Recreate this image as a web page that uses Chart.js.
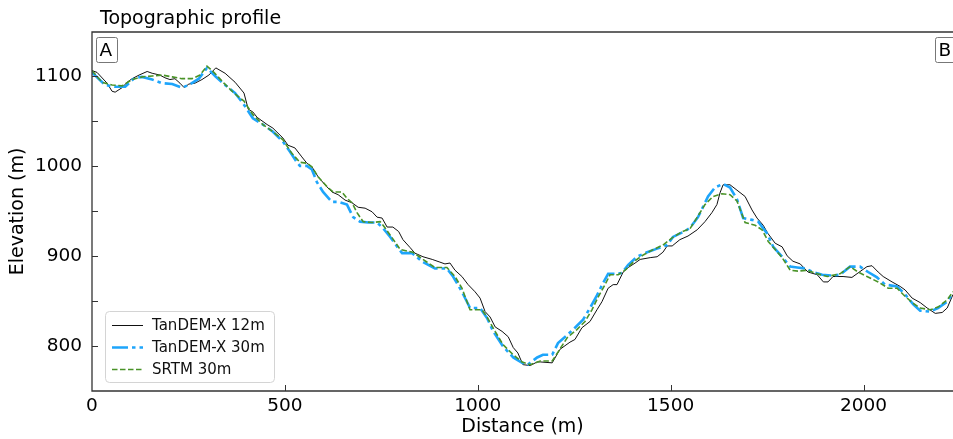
<!DOCTYPE html>
<html>
<head>
<meta charset="utf-8">
<script src="https://cdn.jsdelivr.net/npm/chart.js@4.4.1/dist/chart.umd.min.js"></script>
<style>
  html, body { margin: 0; padding: 0; background: #fff; }
  #wrap { width: 953px; height: 439px; }
</style>
</head>
<body>
<div id="wrap"><canvas id="profile" width="953" height="439"></canvas></div>
<script>
// profile A-B, distance (m) and elevation (m)

const tdx12Dist = [0, 13, 39, 52, 60, 78, 91, 104, 122, 143, 156, 176, 189, 202, 215, 228, 239, 251, 267, 285, 303, 321, 345, 371, 394, 405, 417, 428, 454, 469, 495, 508, 526, 544, 557, 570, 586, 604, 622, 638, 656, 674, 690, 708, 726, 739, 752, 765, 780, 795, 806, 825, 837, 858, 882, 902, 915, 928, 941, 959, 975, 993, 1006, 1019, 1032, 1045, 1063, 1079, 1092, 1104, 1117, 1136, 1154, 1162, 1193, 1213, 1239, 1252, 1270, 1291, 1309, 1322, 1338, 1351, 1361, 1377, 1390, 1408, 1421, 1447, 1465, 1480, 1491, 1504, 1524, 1545, 1569, 1589, 1607, 1620, 1628, 1636, 1654, 1672, 1693, 1711, 1724, 1740, 1752, 1771, 1789, 1802, 1817, 1836, 1856, 1880, 1896, 1908, 1921, 1947, 1970, 1986, 2009, 2022, 2038, 2051, 2074, 2095, 2108, 2126, 2147, 2165, 2186, 2204, 2217, 2232];
const tdx12Elev = [1106, 1104, 1092, 1083, 1082, 1087, 1093, 1097, 1101, 1105, 1103, 1101, 1098, 1096, 1097, 1092, 1087, 1091, 1092, 1096, 1101, 1109, 1103, 1093, 1081, 1063, 1060, 1054, 1046, 1042, 1031, 1023, 1020, 1010, 1003, 999, 988, 979, 971, 968, 962, 959, 954, 953, 949, 943, 942, 932, 932, 927, 918, 909, 903, 899, 896, 893, 891, 892, 884, 877, 868, 860, 853, 838, 832, 821, 816, 810, 798, 792, 779, 778, 782, 782, 781, 796, 804, 807, 820, 827, 840, 849, 864, 868, 868, 882, 887, 892, 896, 898, 899, 904, 911, 911, 918, 922, 929, 938, 948, 957, 970, 979, 979, 973, 966, 951, 942, 934, 925, 914, 910, 900, 894, 891, 882, 879, 871, 871, 877, 877, 876, 881, 888, 889, 882, 877, 871, 866, 862, 853, 848, 842, 836, 837, 842, 857];

const tdx30Dist = [0, 34, 60, 86, 111, 130, 156, 182, 208, 233, 251, 277, 298, 319, 345, 371, 394, 417, 443, 469, 495, 513, 531, 539, 557, 570, 583, 599, 622, 638, 661, 677, 695, 716, 739, 754, 773, 793, 804, 830, 858, 889, 920, 936, 959, 980, 1006, 1024, 1040, 1066, 1092, 1115, 1130, 1154, 1169, 1193, 1208, 1232, 1252, 1273, 1291, 1309, 1325, 1338, 1361, 1374, 1390, 1413, 1439, 1465, 1491, 1506, 1535, 1550, 1571, 1597, 1615, 1636, 1654, 1672, 1688, 1711, 1727, 1750, 1766, 1789, 1810, 1828, 1849, 1869, 1893, 1919, 1939, 1965, 1991, 2012, 2035, 2056, 2087, 2108, 2129, 2147, 2173, 2193, 2217, 2232];
const tdx30Elev = [1104, 1090, 1088, 1088, 1098, 1099, 1096, 1092, 1091, 1087, 1090, 1097, 1109, 1100, 1090, 1081, 1068, 1053, 1046, 1038, 1027, 1016, 1004, 1000, 1000, 996, 982, 971, 960, 960, 957, 943, 938, 937, 937, 931, 921, 909, 903, 903, 893, 886, 886, 877, 860, 842, 842, 831, 816, 799, 787, 781, 779, 787, 790, 790, 803, 812, 820, 829, 842, 856, 870, 880, 880, 881, 890, 899, 904, 908, 912, 921, 927, 931, 943, 966, 976, 980, 976, 963, 942, 940, 938, 925, 910, 899, 888, 887, 886, 882, 879, 878, 879, 888, 888, 882, 876, 868, 866, 857, 846, 839, 838, 842, 849, 859];

const srtmDist = [0, 26, 52, 78, 104, 130, 156, 182, 208, 233, 259, 280, 298, 316, 342, 368, 394, 417, 443, 469, 495, 518, 539, 557, 570, 586, 609, 625, 648, 661, 674, 687, 703, 726, 747, 760, 778, 799, 832, 858, 889, 920, 941, 959, 980, 1011, 1024, 1045, 1066, 1092, 1115, 1136, 1162, 1193, 1208, 1232, 1257, 1278, 1296, 1312, 1330, 1343, 1364, 1382, 1403, 1429, 1455, 1480, 1504, 1530, 1550, 1569, 1589, 1610, 1633, 1654, 1672, 1693, 1719, 1737, 1753, 1771, 1789, 1810, 1830, 1854, 1880, 1906, 1939, 1965, 1986, 2009, 2038, 2064, 2087, 2103, 2126, 2147, 2173, 2193, 2217, 2232];
const srtmElev = [1106, 1093, 1090, 1089, 1096, 1099, 1100, 1101, 1099, 1097, 1097, 1101, 1111, 1104, 1092, 1081, 1072, 1057, 1046, 1038, 1029, 1014, 1004, 1003, 999, 988, 977, 971, 971, 964, 959, 948, 938, 937, 938, 931, 920, 907, 904, 896, 887, 887, 877, 864, 840, 840, 832, 816, 801, 790, 782, 779, 783, 783, 793, 809, 818, 827, 840, 854, 868, 879, 879, 884, 893, 901, 907, 912, 920, 927, 930, 943, 957, 966, 969, 968, 961, 937, 934, 929, 916, 907, 898, 884, 883, 884, 880, 877, 880, 888, 882, 877, 871, 864, 864, 857, 848, 842, 840, 843, 851, 860];

const seriesNames = ['TanDEM-X 12m', 'TanDEM-X 30m', 'SRTM 30m'];
const xTickVals = [0, 500, 1000, 1500, 2000];
const yTickVals = [800, 900, 1000, 1100];
const yMinorVals = [850, 950, 1050];
const xRange = [0, 2232];
const yRange = [749.7, 1148.9];

const toPoints = (xs, ys) => xs.map((x, i) => ({ x: x, y: ys[i] }));
const asTicks = vals => vals.map(v => ({ value: v }));

Chart.defaults.font.family = '"DejaVu Sans", sans-serif';
Chart.defaults.color = '#000';

// frame + inward ticks (matplotlib look)
const framePlugin = {
  id: 'frame',
  afterDatasetsDraw(chart) {
    const { ctx, chartArea: a, scales } = chart;
    const x = scales.x, y = scales.y;
    ctx.save();
    ctx.strokeStyle = '#333';
    ctx.lineWidth = 1.3;
    ctx.beginPath();
    ctx.moveTo(a.right + 2, a.top);
    ctx.lineTo(a.left, a.top);
    ctx.lineTo(a.left, a.bottom);
    ctx.lineTo(a.right + 2, a.bottom);
    ctx.stroke();

    ctx.lineWidth = 1;
    ctx.beginPath();
    yTickVals.concat(yMinorVals).forEach(v => {
      const py = Math.round(y.getPixelForValue(v)) + 0.5;
      ctx.moveTo(a.left, py); ctx.lineTo(a.left + 6, py);
    });
    xTickVals.forEach(v => {
      if (v <= x.min) return;
      const px = Math.round(x.getPixelForValue(v)) + 0.5;
      ctx.moveTo(px, a.bottom); ctx.lineTo(px, a.bottom - 6);
    });
    ctx.stroke();
    ctx.restore();
  },
  afterDraw(chart) {
    const { ctx, chartArea: a, data } = chart;
    ctx.save();

    // title
    ctx.fillStyle = '#000';
    ctx.font = '19px "DejaVu Sans"';
    ctx.textAlign = 'left';
    ctx.textBaseline = 'alphabetic';
    ctx.fillText('Topographic profile', a.left + 8, 23.5);

    // A / B markers
    const tag = (txt, bx) => {
      ctx.beginPath();
      ctx.roundRect(bx + 0.5, a.top + 5.5, 21, 25, 2);
      ctx.fillStyle = '#fff';
      ctx.fill();
      ctx.strokeStyle = '#777';
      ctx.lineWidth = 1;
      ctx.stroke();
      ctx.fillStyle = '#000';
      ctx.font = '18.5px "DejaVu Sans"';
      ctx.textAlign = 'left';
      ctx.textBaseline = 'middle';
      ctx.fillText(txt, bx + 3.5, a.top + 19);
    };
    tag('A', a.left + 4);
    tag('B', a.right - 18);

    // legend
    const lx = a.left + 13, ly = 311, lw = 169, lh = 71;
    ctx.beginPath();
    ctx.roundRect(lx + 0.5, ly + 0.5, lw, lh, 4);
    ctx.fillStyle = 'rgba(255,255,255,0.85)';
    ctx.fill();
    ctx.strokeStyle = '#d4d4d4';
    ctx.lineWidth = 1;
    ctx.stroke();
    data.datasets.forEach((ds, i) => {
      const yy = ly + 14.5 + i * 22;
      ctx.beginPath();
      ctx.setLineDash(ds.borderDash || []);
      ctx.strokeStyle = ds.borderColor;
      ctx.lineWidth = ds.borderWidth;
      ctx.moveTo(lx + 7, yy);
      ctx.lineTo(lx + 38, yy);
      ctx.stroke();
      ctx.setLineDash([]);
      ctx.fillStyle = '#111';
      ctx.font = '15px "DejaVu Sans"';
      ctx.textAlign = 'left';
      ctx.textBaseline = 'middle';
      ctx.fillText(ds.label, lx + 47, yy + 0.5);
    });
    ctx.restore();
  }
};

new Chart(document.getElementById('profile'), {
  type: 'line',
  data: {
    datasets: [
      {
        label: seriesNames[0],
        data: toPoints(tdx12Dist, tdx12Elev),
        borderColor: '#111',
        borderWidth: 1,
        order: 3
      },
      {
        label: seriesNames[1],
        data: toPoints(tdx30Dist, tdx30Elev),
        borderColor: '#1ea5fb',
        borderWidth: 2.6,
        borderDash: [16, 4, 3.5, 4],
        order: 2
      },
      {
        label: seriesNames[2],
        data: toPoints(srtmDist, srtmElev),
        borderColor: '#4a9328',
        borderWidth: 1.6,
        borderDash: [5.5, 2.5],
        order: 1
      }
    ]
  },
  options: {
    responsive: false,
    animation: false,
    devicePixelRatio: 1,
    elements: { point: { radius: 0 }, line: { tension: 0, borderCapStyle: 'butt' } },
    layout: { padding: { top: 32, left: 0, right: 0, bottom: 0 } },
    plugins: { legend: { display: false }, tooltip: { enabled: false }, title: { display: false } },
    scales: {
      x: {
        type: 'linear',
        min: xRange[0],
        max: xRange[1],
        grid: { display: false, drawTicks: false },
        border: { display: false },
        ticks: { padding: 4, font: { size: 18.5 }, maxRotation: 0, autoSkip: false, callback: v => String(v) },
        afterBuildTicks: s => { s.ticks = asTicks(xTickVals); },
        title: { display: true, text: 'Distance (m)', font: { size: 19 }, padding: { top: 0, bottom: 1 } },
        afterFit: s => { s.height = 48; }
      },
      y: {
        type: 'linear',
        min: yRange[0],
        max: yRange[1],
        grid: { display: false, drawTicks: false },
        border: { display: false },
        ticks: { padding: 10, font: { size: 18.5 }, autoSkip: false, callback: v => String(v) },
        afterBuildTicks: s => { s.ticks = asTicks(yTickVals); },
        title: { display: true, text: 'Elevation (m)', font: { size: 19 }, padding: { top: 7, bottom: 0 } },
        afterFit: s => { s.width = 92; }
      }
    }
  },
  plugins: [framePlugin]
});
</script>
</body>
</html>
